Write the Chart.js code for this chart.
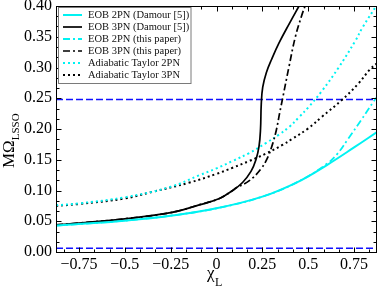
<!DOCTYPE html>
<html>
<head>
<meta charset="utf-8">
<script src="https://cdn.jsdelivr.net/npm/chart.js@4/dist/chart.umd.min.js"></script>
<style>
html,body{margin:0;padding:0;background:#fff;}
canvas{display:block;}
</style>
</head>
<body>
<canvas id="c" width="379" height="288"></canvas>
<script>
// ---- axis ranges and ticks ----
const xMin = -0.875, xMax = 0.875;
const yMin = 0, yMax = 0.4;
const xTickValues = [-0.75, -0.5, -0.25, 0, 0.25, 0.5, 0.75];
const xTickLabels = ['\u22120.75', '\u22120.5', '\u22120.25', '0', '0.25', '0.5', '0.75'];
const yTickValues = [0, 0.05, 0.1, 0.15, 0.2, 0.25, 0.3, 0.35, 0.4];
const yTickLabels = ['0.00', '0.05', '0.10', '0.15', '0.20', '0.25', '0.30', '0.35', '0.40'];
const minorPerMajor = 2;

// ---- series ----
const eob2DamourX = [-0.875, -0.75, -0.5, -0.25, 0, 0.25, 0.45, 0.6, 0.75, 0.875];
const eob2DamourY = [0.043, 0.0455, 0.051, 0.059, 0.071, 0.090, 0.115, 0.141, 0.170, 0.195];

const eob3DamourX = [-0.875, -0.75, -0.5, -0.25, -0.09, 0.016, 0.088, 0.142, 0.188, 0.215, 0.232, 0.240, 0.244, 0.252, 0.272, 0.30, 0.341, 0.40, 0.45];
const eob3DamourY = [0.044, 0.047, 0.054, 0.064, 0.077, 0.087, 0.100, 0.113, 0.131, 0.150, 0.172, 0.200, 0.240, 0.268, 0.292, 0.313, 0.340, 0.373, 0.40];

const eob2ThisX = [-0.875, -0.75, -0.5, -0.25, 0, 0.25, 0.45, 0.6, 0.66, 0.72, 0.79, 0.855, 0.875];
const eob2ThisY = [0.043, 0.0455, 0.051, 0.059, 0.071, 0.090, 0.115, 0.143, 0.160, 0.185, 0.215, 0.244, 0.252];

const eob3ThisX = [-0.875, -0.75, -0.5, -0.25, -0.09, 0.016, 0.088, 0.106, 0.179, 0.242, 0.278, 0.305, 0.326, 0.345, 0.362, 0.395, 0.43, 0.465, 0.483];
const eob3ThisY = [0.044, 0.047, 0.054, 0.064, 0.077, 0.087, 0.100, 0.104, 0.116, 0.135, 0.153, 0.175, 0.198, 0.227, 0.252, 0.301, 0.350, 0.385, 0.40];

const taylor2X = [-0.875, -0.75, -0.5, -0.25, -0.092, 0, 0.088, 0.179, 0.269, 0.341, 0.395, 0.449, 0.503, 0.575, 0.666, 0.756, 0.80, 0.875];
const taylor2Y = [0.076, 0.079, 0.089, 0.106, 0.125, 0.136, 0.148, 0.161, 0.177, 0.191, 0.203, 0.219, 0.236, 0.262, 0.300, 0.343, 0.367, 0.402];

const taylor3X = [-0.875, -0.75, -0.5, -0.36, -0.146, 0, 0.088, 0.179, 0.269, 0.359, 0.413, 0.5, 0.575, 0.683, 0.774, 0.837, 0.875];
const taylor3Y = [0.075, 0.078, 0.087, 0.097, 0.113, 0.127, 0.137, 0.148, 0.160, 0.174, 0.184, 0.201, 0.220, 0.247, 0.274, 0.297, 0.307];

const refLevels = [0.248, 0.006];

const legendLabels = [
  'EOB 2PN (Damour [5])',
  'EOB 3PN (Damour [5])',
  'EOB 2PN (this paper)',
  'EOB 3PN (this paper)',
  'Adiabatic Taylor 2PN',
  'Adiabatic Taylor 3PN'
];

// ---- styling ----
const SERIF = "'Liberation Serif', 'Times New Roman', serif";
const CYAN = '#00f2f2';
const BLACK = '#000000';
const BLUE = '#1010ff';
const styles = [
  { color: CYAN, width: 2, dash: [] },
  { color: BLACK, width: 1.7, dash: [] },
  { color: CYAN, width: 1.8, dash: [7, 3, 2, 3] },
  { color: BLACK, width: 1.7, dash: [7, 3, 2, 3] },
  { color: CYAN, width: 2, dash: [2, 3] },
  { color: BLACK, width: 2, dash: [2, 3] }
];

function zip(xs, ys) { return xs.map((x, i) => ({ x: x, y: ys[i] })); }

const seriesData = [
  zip(eob2DamourX, eob2DamourY),
  zip(eob3DamourX, eob3DamourY),
  zip(eob2ThisX, eob2ThisY),
  zip(eob3ThisX, eob3ThisY),
  zip(taylor2X, taylor2Y),
  zip(taylor3X, taylor3Y)
];

const datasets = [];
seriesData.forEach((d, i) => {
  datasets.push({
    label: legendLabels[i],
    data: d,
    borderColor: styles[i].color,
    borderWidth: styles[i].width,
    borderDash: styles[i].dash,
    tension: 0.4,
    pointRadius: 0,
    fill: false
  });
});
refLevels.forEach(v => {
  datasets.push({
    label: 'ref',
    data: [{ x: xMin, y: v }, { x: xMax, y: v }],
    borderColor: BLUE,
    borderWidth: 1.5,
    borderDash: [7, 3],
    pointRadius: 0,
    fill: false
  });
});

function minorValues(majors, lo, hi) {
  const step = majors[1] - majors[0];
  const sub = step / (minorPerMajor + 1);
  const out = [];
  for (let k = -1; k <= majors.length; k++) {
    const base = majors[0] + k * step;
    for (let m = 1; m <= minorPerMajor; m++) {
      const v = base + m * sub;
      if (v > lo + 1e-9 && v < hi - 1e-9) out.push(v);
    }
  }
  return out;
}

const framePlugin = {
  id: 'frame',
  afterDatasetsDraw(chart) {
    const ctx = chart.ctx;
    const a = chart.chartArea;
    const xs = chart.scales.x, ys = chart.scales.y;
    ctx.save();
    ctx.strokeStyle = '#000';
    ctx.lineWidth = 1;
    ctx.strokeRect(Math.round(a.left) + 0.5, Math.round(a.top) + 0.5,
                   Math.round(a.right - a.left) - 1, Math.round(a.bottom - a.top));
    const L = Math.round(a.left) + 0.5, R = Math.round(a.right) - 0.5;
    const T = Math.round(a.top) + 0.5, B = Math.round(a.bottom) + 0.5;
    ctx.beginPath();
    const drawX = (v, len) => {
      const p = Math.round(xs.getPixelForValue(v)) + 0.5;
      ctx.moveTo(p, B); ctx.lineTo(p, B - len);
      ctx.moveTo(p, T); ctx.lineTo(p, T + len);
    };
    const drawY = (v, len) => {
      const p = Math.round(ys.getPixelForValue(v)) + 0.5;
      ctx.moveTo(L, p); ctx.lineTo(L + len, p);
      ctx.moveTo(R, p); ctx.lineTo(R - len, p);
    };
    xTickValues.forEach(v => drawX(v, 5));
    minorValues(xTickValues, xMin, xMax).forEach(v => drawX(v, 3));
    yTickValues.forEach(v => drawY(v, 5));
    minorValues(yTickValues, yMin, yMax).forEach(v => drawY(v, 3));
    ctx.stroke();

    // legend box
    const bx = 58.5, by = 7.5, bw = 132.5, bh = 76;
    ctx.fillStyle = '#fff';
    ctx.fillRect(bx, by, bw, bh);
    ctx.strokeStyle = '#7a7a7a';
    ctx.lineWidth = 1;
    ctx.strokeRect(bx, by, bw, bh);
    ctx.font = '10.5px ' + SERIF;
    ctx.textBaseline = 'middle';
    ctx.textAlign = 'left';
    legendLabels.forEach((lab, i) => {
      const y = 15 + i * 12;
      const st = styles[i];
      ctx.beginPath();
      ctx.strokeStyle = st.color;
      ctx.lineWidth = st.width;
      ctx.setLineDash(st.dash);
      ctx.moveTo(63, y);
      ctx.lineTo(82, y);
      ctx.stroke();
      ctx.setLineDash([]);
      ctx.fillStyle = '#111';
      ctx.fillText(lab, 88, y + 0.5);
    });

    // axis titles
    ctx.fillStyle = '#000';
    ctx.textBaseline = 'alphabetic';
    ctx.save();
    ctx.translate(13.5, 168);
    ctx.rotate(-Math.PI / 2);
    ctx.font = '17px ' + SERIF;
    ctx.fillText('M\u03A9', 0, 0);
    const w = ctx.measureText('M\u03A9').width;
    ctx.font = '11px ' + SERIF;
    ctx.fillText('LSSO', w, 5);
    ctx.restore();

    ctx.font = '17px ' + SERIF;
    ctx.fillText('\u03C7', 207, 278);
    const wc = ctx.measureText('\u03C7').width;
    ctx.font = '12px ' + SERIF;
    ctx.fillText('L', 207 + wc + 0.5, 286);
    ctx.restore();
  }
};

new Chart(document.getElementById('c'), {
  type: 'line',
  data: { datasets: datasets },
  options: {
    responsive: false,
    animation: false,
    devicePixelRatio: 1,
    layout: { padding: { top: 6, right: 2, left: 0, bottom: 0 } },
    plugins: { legend: { display: false }, tooltip: { enabled: false } },
    elements: { point: { radius: 0 } },
    scales: {
      x: {
        type: 'linear', min: xMin, max: xMax,
        grid: { display: false, drawTicks: false },
        border: { display: false },
        ticks: {
          font: { family: SERIF, size: 16 }, color: '#000', padding: 3,
          maxRotation: 0, autoSkip: false,
          callback: (v, i) => xTickLabels[i]
        },
        afterBuildTicks: s => { s.ticks = xTickValues.map(v => ({ value: v })); },
        afterFit: s => { s.height = 36; s.paddingLeft = 0; s.paddingRight = 0; }
      },
      y: {
        type: 'linear', min: yMin, max: yMax,
        grid: { display: false, drawTicks: false },
        border: { display: false },
        ticks: {
          font: { family: SERIF, size: 16 }, color: '#000', padding: 4,
          autoSkip: false,
          callback: (v, i) => yTickLabels[i]
        },
        afterBuildTicks: s => { s.ticks = yTickValues.map(v => ({ value: v })); },
        afterFit: s => { s.width = 56; s.paddingTop = 0; s.paddingBottom = 0; }
      }
    }
  },
  plugins: [framePlugin]
});
</script>
</body>
</html>
